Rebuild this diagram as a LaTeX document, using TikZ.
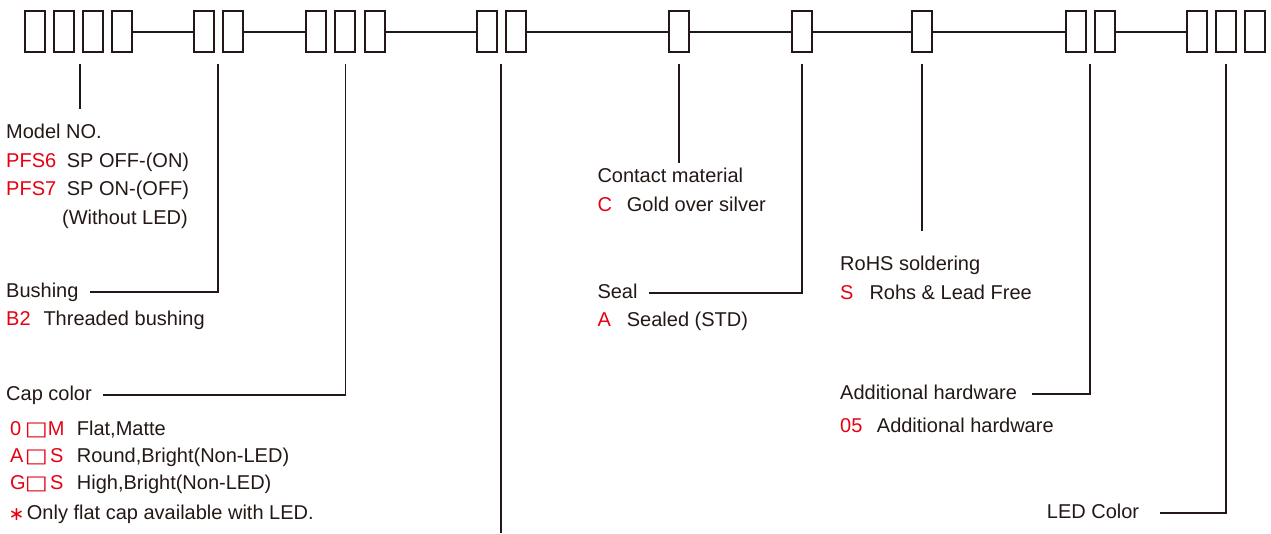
\documentclass[tikz,border=0pt]{standalone}
\usepackage{fontspec}
\setmainfont{Liberation Sans}
\newfontfamily\dejavu{DejaVu Sans}
\definecolor{ink}{RGB}{35,24,21}
\definecolor{codered}{RGB}{230,0,18}
\tikzset{
  digit/.style={draw=ink, line width=2pt, minimum width=20pt, minimum height=41.5pt, inner sep=0pt, fill=white},
  wire/.style={draw=ink, line width=1.7pt},
  lead/.style={draw=ink, line width=1.7pt},
  txt/.style={anchor=base west, inner sep=0pt, text=ink, font=\fontsize{20}{24}\selectfont},
  code/.style={txt, text=codered},
  head/.style={txt, text height=11pt, text depth=0pt},
  sq/.style={anchor=base, inner sep=0pt, text=codered, font=\dejavu\fontsize{19.5}{20}\selectfont},
}
\begin{document}
\begin{tikzpicture}[x=1pt,y=1pt]
\useasboundingbox (0,0) rectangle (1271,-533);
% boxes
\node[digit] (m1) at (34.7,-31.7) {};
\node[digit] (m2) at (63.8,-31.7) {};
\node[digit] (m3) at (92.8,-31.7) {};
\node[digit] (m4) at (121.7,-31.7) {};
\node[digit] (bu1) at (203.7,-31.7) {};
\node[digit] (bu2) at (232.7,-31.7) {};
\node[digit] (cc1) at (316.3,-31.7) {};
\node[digit] (cc2) at (345.3,-31.7) {};
\node[digit] (cc3) at (374.7,-31.7) {};
\node[digit] (x1) at (487.3,-31.7) {};
\node[digit] (x2) at (516,-31.7) {};
\node[digit] (ct) at (679,-31.7) {};
\node[digit] (se) at (801.7,-31.7) {};
\node[digit] (ro) at (922,-31.7) {};
\node[digit] (ah1) at (1075.7,-31.7) {};
\node[digit] (ah2) at (1104.7,-31.7) {};
\node[digit] (le1) at (1197,-31.7) {};
\node[digit] (le2) at (1225.7,-31.7) {};
\node[digit] (le3) at (1255,-31.7) {};
% wires between groups
\draw[wire] (m4.east) -- (bu1.west);
\draw[wire] (bu2.east) -- (cc1.west);
\draw[wire] (cc3.east) -- (x1.west);
\draw[wire] (x2.east) -- (ct.west);
\draw[wire] (ct.east) -- (se.west);
\draw[wire] (se.east) -- (ro.west);
\draw[wire] (ro.east) -- (ah1.west);
\draw[wire] (ah2.east) -- (le1.west);
% leader coordinates
\coordinate (mtop) at (79.7,-63.5);
\coordinate (mend) at (79.7,-109.3);
\coordinate (butop) at (218.2,-63.5);
\coordinate (cctop) at (345.5,-63.5);
\coordinate (xtop) at (501,-63.5);
\coordinate (xend) at (501,-533);
\coordinate (cttop) at (679.3,-63.5);
\coordinate (ctend) at (679.3,-163.3);
\coordinate (setop) at (802,-63.5);
\coordinate (rotop) at (922,-63.5);
\coordinate (roend) at (922,-230.7);
\coordinate (ahtop) at (1090,-63.5);
\coordinate (letop) at (1226,-63.5);
% left texts
\node[txt] (model) at (6,-138) {Model NO.};
\node[code] (pfs6) at (6,-167) {PFS6};
\node[txt] (pfs6d) at (66.7,-167) {SP OFF-(ON)};
\node[code] (pfs7) at (6,-195.5) {PFS7};
\node[txt] (pfs7d) at (66.7,-195.5) {SP ON-(OFF)};
\node[txt] (noled) at (62,-224) {(Without LED)};
\node[head] (bushing) at (6,-297.2) {Bushing};
\node[code] (b2) at (6,-325.5) {B2};
\node[txt] (b2d) at (43.3,-325.5) {Threaded bushing};
\node[head] (capc) at (6,-400.5) {Cap color};
\node[code] (c0) at (10,-435) {0};
\node[sq] (c0s) at (36.3,-435) {\scalebox{1.25}[1]{□}};
\node[code] (c0m) at (47.7,-435) {M};
\node[txt] (c0d) at (76.7,-435) {Flat,Matte};
\node[code] (ca) at (10,-462) {A};
\node[sq] (cas) at (36.3,-462) {\scalebox{1.25}[1]{□}};
\node[code] (cam) at (50,-462) {S};
\node[txt] (cad) at (76.7,-462) {Round,Bright(Non-LED)};
\node[code] (cg) at (10,-489) {G};
\node[sq] (cgs) at (36.3,-489) {\scalebox{1.25}[1]{□}};
\node[code] (cgm) at (50,-489) {S};
\node[txt] (cgd) at (76.7,-489) {High,Bright(Non-LED)};
\node[code, font=\dejavu\fontsize{19}{19}\selectfont] (ast) at (8.5,-520) {∗};
\node[txt] (only) at (26.7,-519) {Only flat cap available with LED.};
% middle texts
\node[txt] (contact) at (597.3,-182) {Contact material};
\node[code] (cc) at (597.3,-211) {C};
\node[txt] (ccd) at (626.7,-211) {Gold over silver};
\node[head] (seal) at (597.3,-298.2) {Seal};
\node[code] (sa) at (597.3,-326) {A};
\node[txt] (sad) at (626.7,-326) {Sealed (STD)};
% right texts
\node[txt] (rohs) at (840,-270.5) {RoHS soldering};
\node[code] (rs) at (840,-299) {S};
\node[txt] (rsd) at (869.3,-299) {Rohs \& Lead Free};
\node[head] (addh) at (840,-399.8) {Additional hardware};
\node[code] (a05) at (840,-432.5) {05};
\node[txt] (a05d) at (876.7,-432.5) {Additional hardware};
\node[head] (led) at (1046.7,-518.8) {LED Color};
% leaders
\draw[lead] (mtop) -- (mend);
\draw[lead] (butop) |- ([xshift=11.7pt]bushing.east);
\draw[lead] (cctop) |- ([xshift=11.4pt]capc.east);
\draw[lead] (xtop) -- (xend);
\draw[lead] (cttop) -- (ctend);
\draw[lead] (setop) |- ([xshift=11pt]seal.east);
\draw[lead] (rotop) -- (roend);
\draw[lead] (ahtop) |- ([xshift=15pt]addh.east);
\draw[lead] (letop) |- ([xshift=20.4pt]led.east);
\end{tikzpicture}
\end{document}
